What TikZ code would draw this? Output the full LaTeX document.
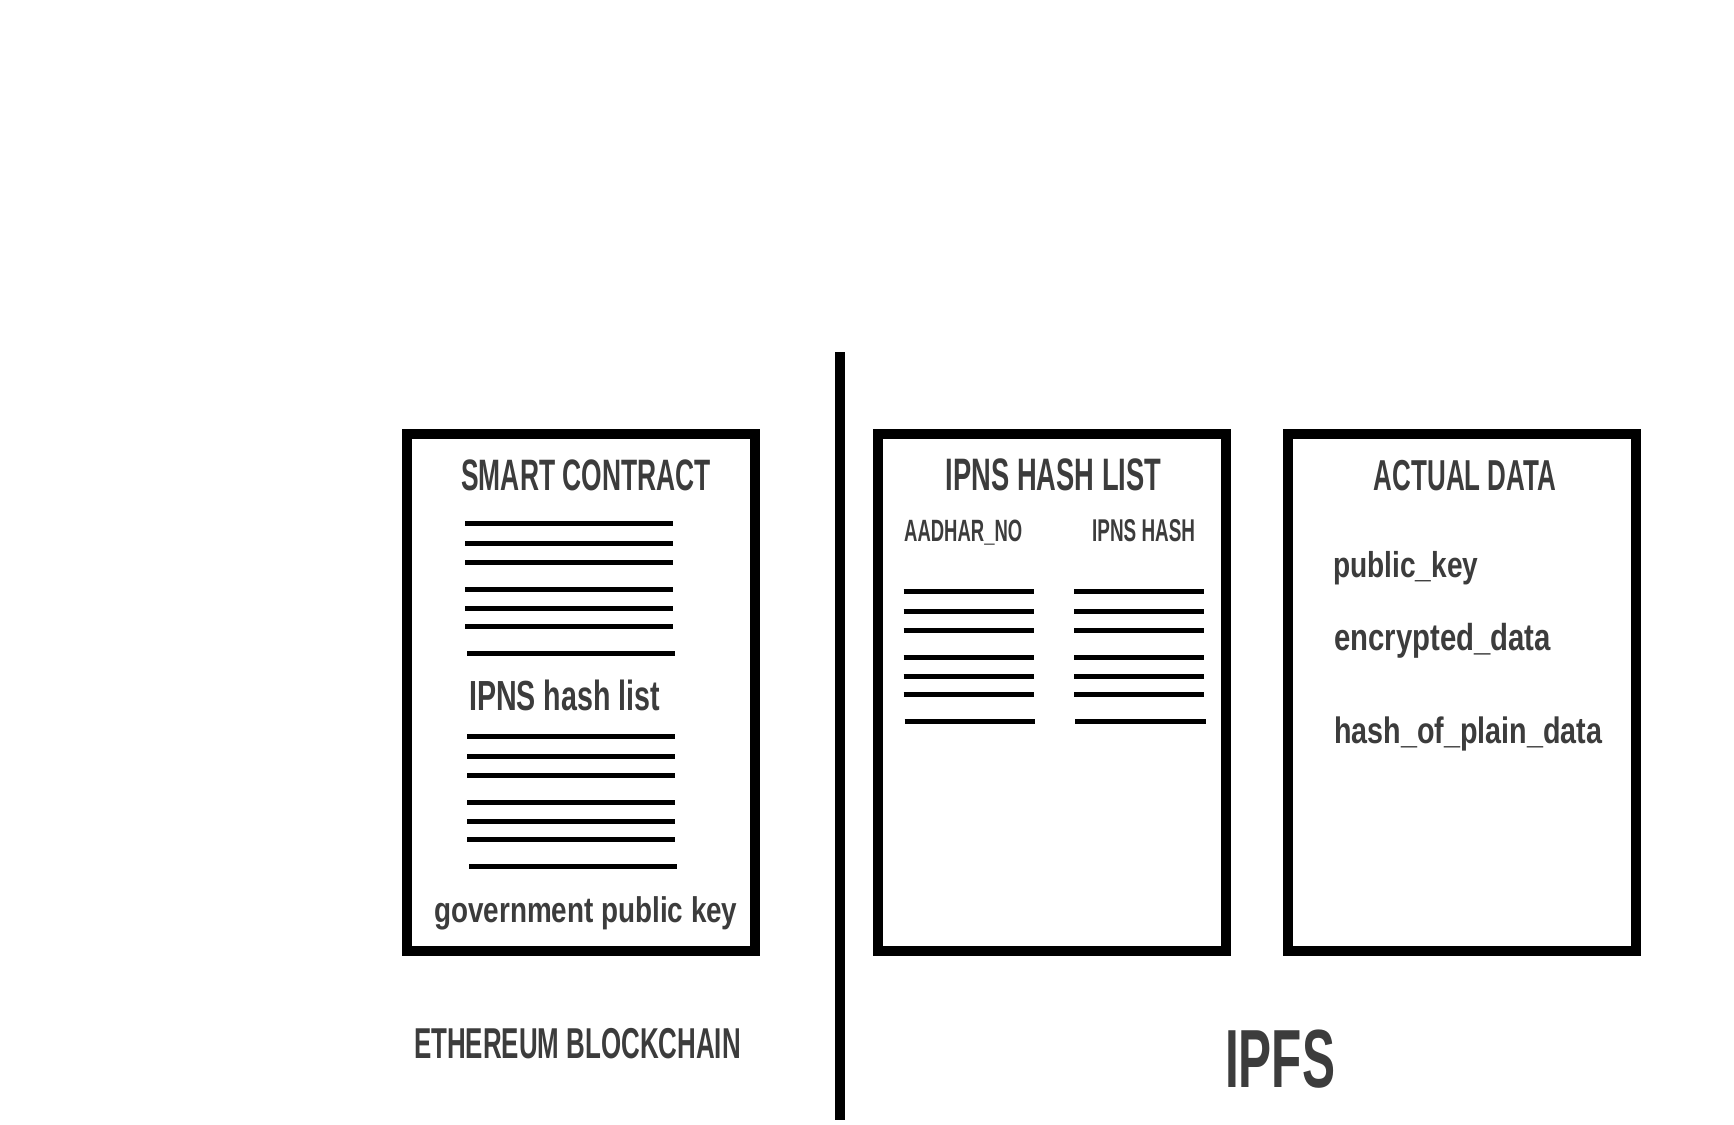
\documentclass[tikz,border=0pt]{standalone}
\usepackage{fontspec}
\setmainfont{Liberation Sans}
\newfontfamily\titlefont{Liberation Sans}[FakeStretch=0.6]
\newfontfamily\midfont{Liberation Sans}[FakeStretch=0.68]
\newfontfamily\bodyfont{Liberation Sans}[FakeStretch=0.78]
\definecolor{txt}{HTML}{3C3C3C}
\begin{document}
\begin{tikzpicture}[x=1pt,y=-1pt,
  frame/.style={line width=10pt, draw=black},
  docline/.style={line width=5pt, draw=black},
  ttl/.style={inner sep=0pt, text=txt, anchor=base, font=\titlefont\bfseries\fontsize{#1}{#1}\selectfont},
  bdy/.style={inner sep=0pt, text=txt, anchor=base west, font=\bodyfont\bfseries\fontsize{#1}{#1}\selectfont},
  mid/.style={inner sep=0pt, text=txt, anchor=base west, font=\midfont\bfseries\fontsize{#1}{#1}\selectfont},
  hdr/.style={inner sep=0pt, text=txt, anchor=base west, font=\titlefont\bfseries\fontsize{#1}{#1}\selectfont}]
\useasboundingbox[fill=white] (0,0) rectangle (1734,1124);

% divider
\coordinate (divtop) at (840,352);
\coordinate (divbot) at (840,1120);
\draw[line width=10pt] (divtop) -- (divbot);

% boxes
\draw[frame] (407,434) rectangle (755,951);
\draw[frame] (878,434) rectangle (1226,951);
\draw[frame] (1288,434) rectangle (1636,951);

% box 1 lines
\foreach \y in {523.5,543.5,562.5,589.5,608.5,626.5}
  \draw[docline] (465,\y) -- (673,\y);
\draw[docline] (467,653.5) -- (675,653.5);
\foreach \y in {736.5,756.5,775.5,802.5,821.5,839.5}
  \draw[docline] (467,\y) -- (675,\y);
\draw[docline] (469,866.5) -- (677,866.5);

% box 2 lines
\foreach \y in {591.5,611.5,630.5,657.5,676.5,694.5}{
  \draw[docline] (903.5,\y) -- (1034,\y);
  \draw[docline] (1074,\y) -- (1204,\y);
}
\draw[docline] (904.5,721.5) -- (1035,721.5);
\draw[docline] (1075,721.5) -- (1206,721.5);

% texts box 1
\node[ttl=44] (sc) at (586,490) {SMART CONTRACT};
\node[mid=42.1] (ihl) at (469,710) {IPNS hash list};
\node[bdy=35.7] (gpk) at (434,922) {government public key};

% texts box 2
\node[ttl=45.5] (ihlt) at (1053.5,490) {IPNS HASH LIST};
\node[hdr=30.8] (aad) at (904,541) {AADHAR\_NO};
\node[hdr=31.5] (ipnsh) at (1092,541) {IPNS HASH};

% texts box 3
\node[ttl=43.3] (ad) at (1465,490) {ACTUAL DATA};
\node[bdy=36] (pk) at (1333,577) {public\_key};
\node[bdy=37.6] (ed) at (1334,650) {encrypted\_data};
\node[bdy=36.8] (hpd) at (1334,743) {hash\_of\_plain\_data};

% bottom labels
\node[ttl=43.2] (eth) at (577.5,1058) {ETHEREUM BLOCKCHAIN};
\node[ttl=82.5] (ipfs) at (1280,1087) {IPFS};
\end{tikzpicture}
\end{document}
